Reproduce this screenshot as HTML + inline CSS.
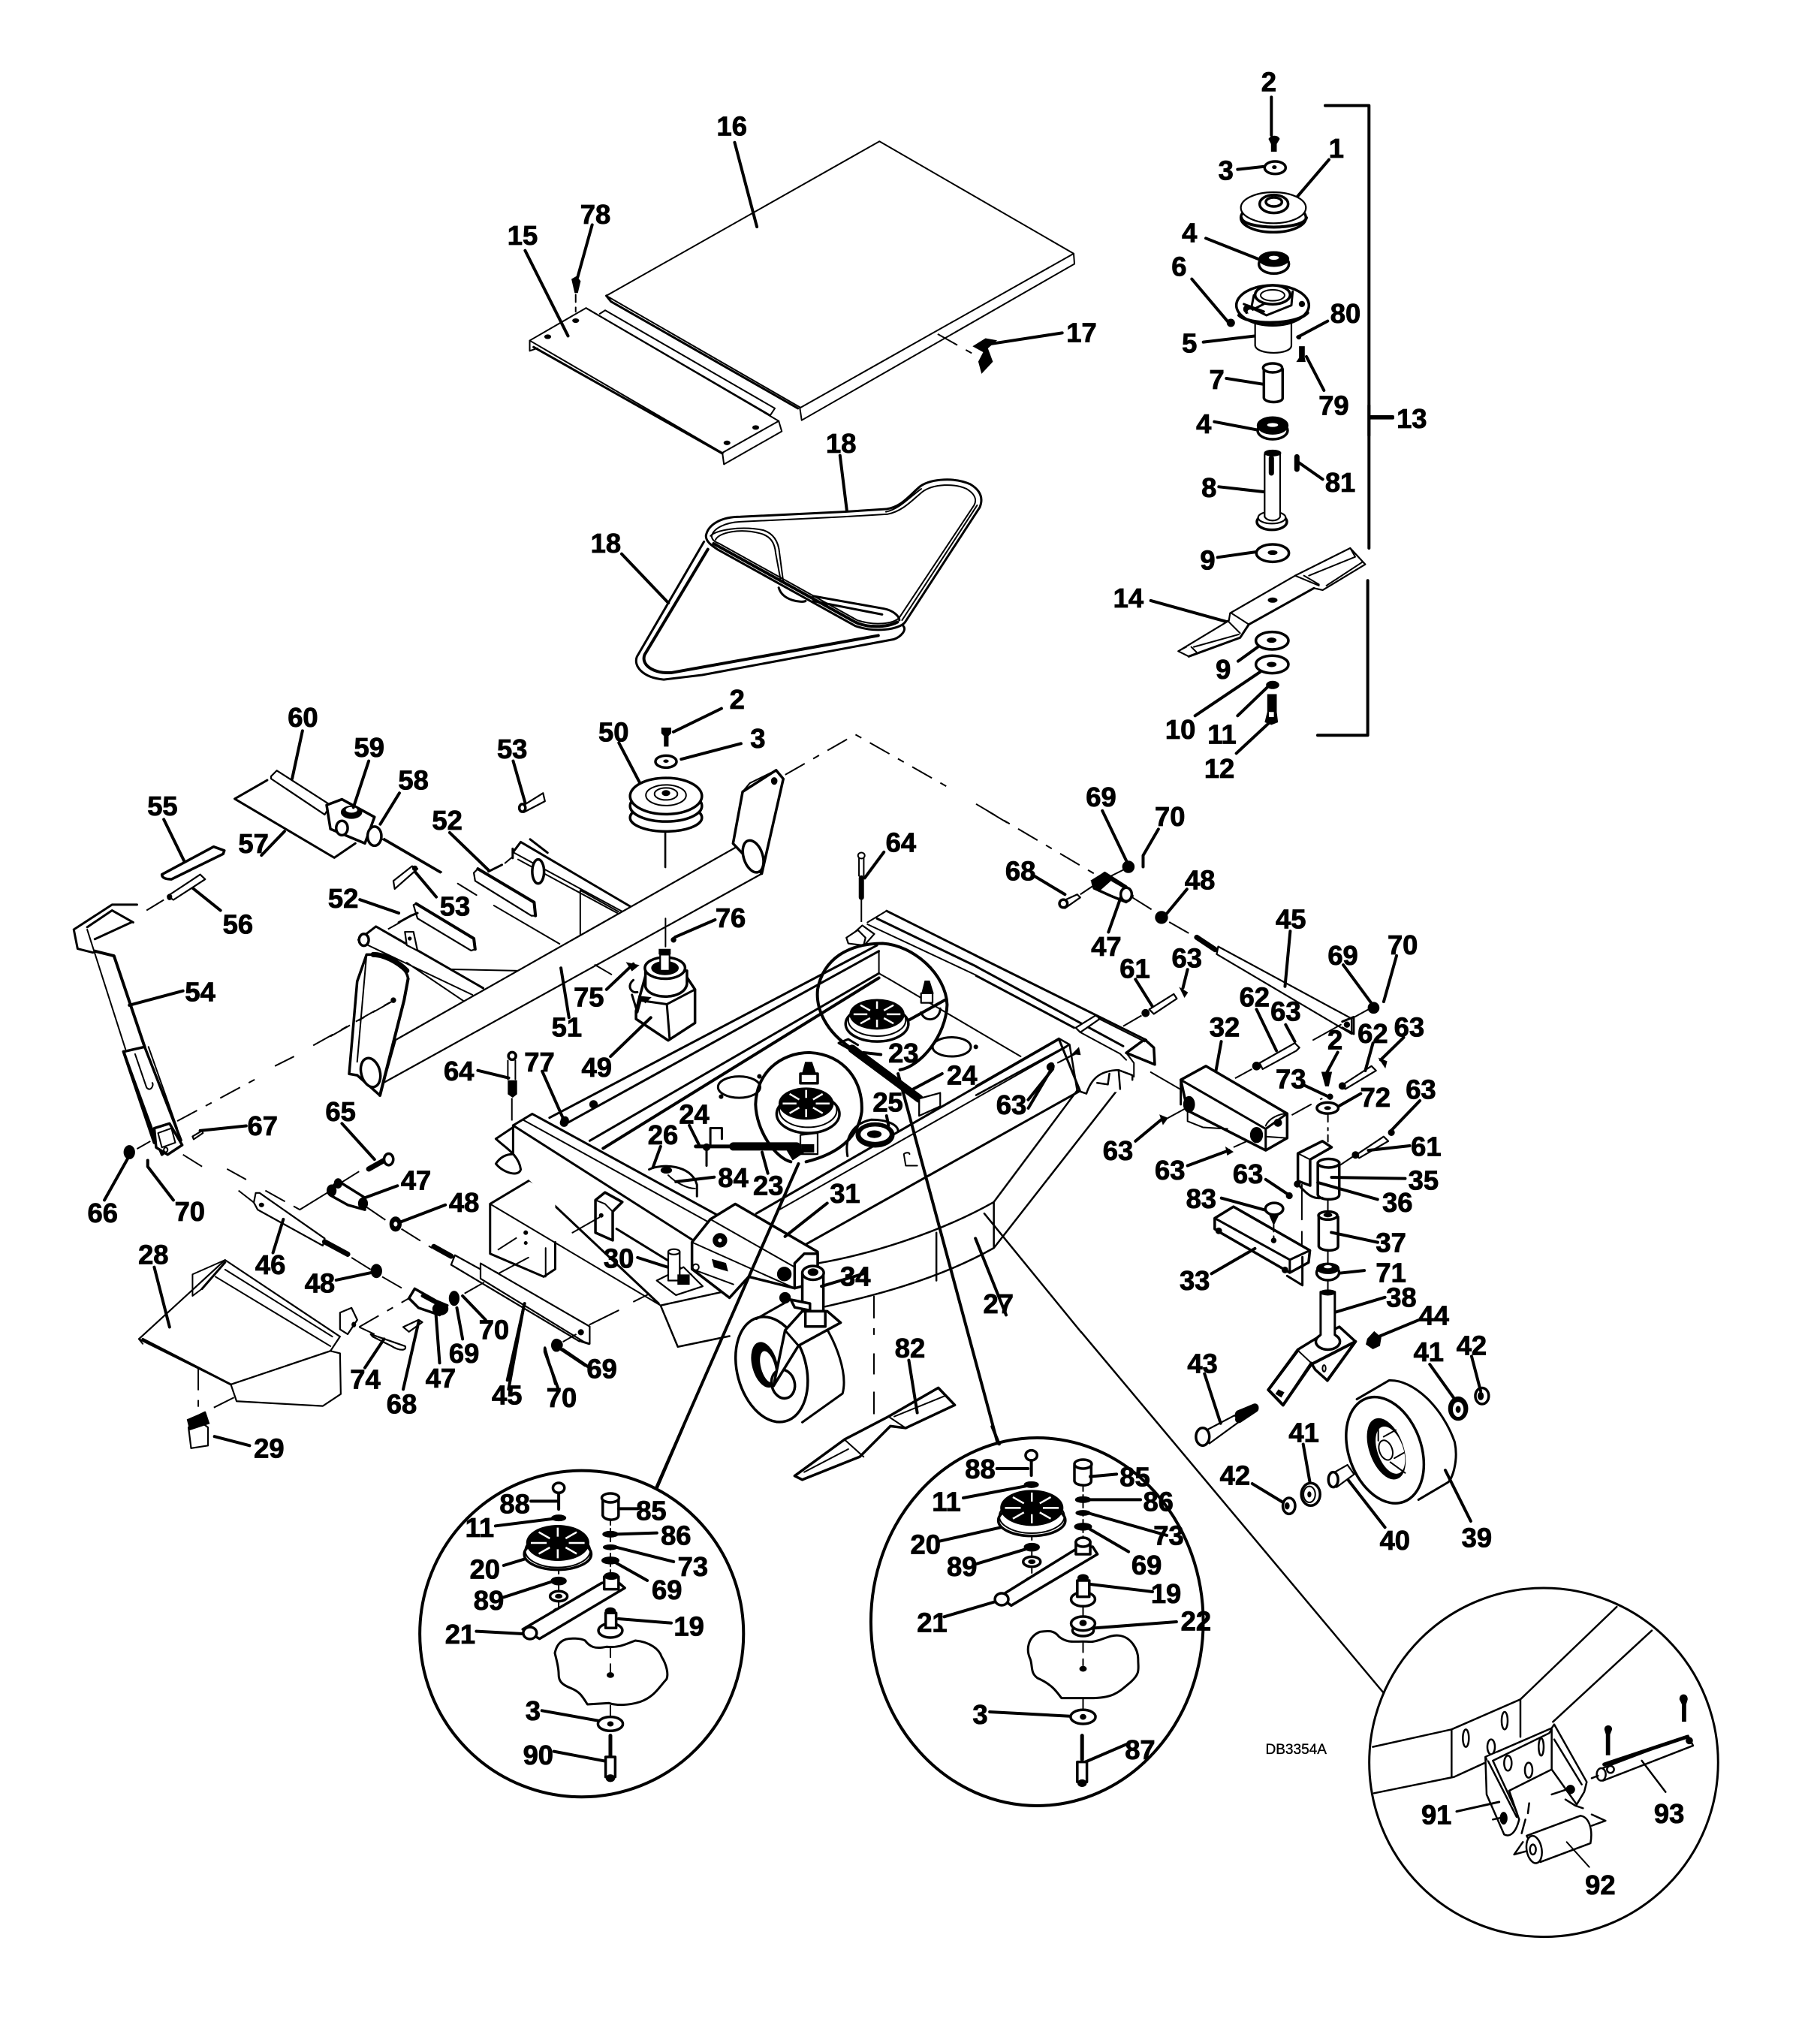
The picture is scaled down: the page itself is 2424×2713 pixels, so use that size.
<!DOCTYPE html>
<html><head><meta charset="utf-8"><style>
html,body{margin:0;padding:0;background:#fff}
svg{display:block}
path,ellipse,circle,rect{vector-effect:non-scaling-stroke}
text{font-family:"Liberation Sans",sans-serif;font-weight:bold;font-size:21px;fill:#000;stroke:#000;stroke-width:.5;text-anchor:middle;dominant-baseline:central}
.s{fill:none;stroke:#000;stroke-width:2;stroke-linejoin:round;stroke-linecap:round}
.m{fill:none;stroke:#000;stroke-width:3;stroke-linejoin:round;stroke-linecap:round}
.w{fill:#fff;stroke:#000;stroke-width:2.200;stroke-linejoin:round}
.W{fill:#fff;stroke:#000;stroke-width:3.500;stroke-linejoin:round}
.t{fill:none;stroke:#000;stroke-width:4;stroke-linecap:round;stroke-linejoin:round}
.h{fill:none;stroke:#000;stroke-width:7;stroke-linecap:round;stroke-linejoin:round}
.d{fill:none;stroke:#000;stroke-width:2;stroke-dasharray:30 13 9 13}
.f{fill:#000;stroke:#000;stroke-width:1}
</style></head><body>
<svg width="2424" height="2713" viewBox="0 0 2424 2713" xmlns="http://www.w3.org/2000/svg">
<defs>
<g id="sp">
<ellipse cx="0" cy="0" rx="1" ry="1" fill="#000"/>
<path stroke="#fff" stroke-width="2.500" fill="none" d="M0,-.35V-.85M0,.35V.85M-.35,0H-.85M.35,0H.85M-.25,-.25L-.6,-.6M.25,-.25L.6,-.6M-.25,.25L-.6,.6M.25,.25L.6,.6"/>
</g>
</defs>
<rect width="2424" height="2713" fill="#fff"/>

<!-- A: panels and belts -->
<g transform="translate(680,150) scale(.5102)">
<path class="s" d="M250,478L963,75L1470,368L757,770Z"/>
<path class="m" d="M262,493L750,772M250,478L262,493"/>
<path class="s" d="M1470,368L1472,395L760,803L755,770"/>
<path class="d" d="M1115,578L1225,640"/>
<path class="f" d="M1208,610L1240,590L1268,595L1245,615L1258,650L1230,680L1222,650L1235,625Z"/>
<path class="s" d="M50,595L197,510L700,805L553,888Z"/>
<path class="s" d="M197,510L678,790M233,525L247,516L690,772L678,790"/>
<path class="m" d="M60,612L553,890"/>
<path class="s" d="M553,888L557,918L708,832L700,805M50,595V622L70,615"/>
<ellipse class="f" cx="97" cy="585" rx="8" ry="5"/><ellipse class="f" cx="170" cy="543" rx="8" ry="5"/><ellipse class="f" cx="565" cy="862" rx="8" ry="5"/><ellipse class="f" cx="640" cy="822" rx="8" ry="5"/>
<path class="t" d="M38,360L150,583M213,293L175,430M585,78L643,298M1440,575L1245,605M860,895L878,1040M290,1152L412,1280"/>
<path class="f" d="M160,435L172,428L182,440L175,470H168Z"/>
<path class="s" stroke-dasharray="10 7" d="M170,475V520"/>
<!-- belts -->
<path class="m" d="M510,1105C515,1075 550,1055 600,1055L870,1042L980,1035C1020,1030 1040,1000 1070,975C1100,955 1160,952 1200,970C1225,985 1235,1005 1225,1030L1030,1330C1015,1350 950,1358 900,1340L540,1140C525,1130 510,1120 510,1105Z"/>
<path class="s" d="M525,1105C530,1085 560,1070 600,1068L870,1055L985,1048C1025,1040 1050,1010 1075,990C1105,968 1160,968 1190,982C1212,995 1218,1010 1210,1025L1015,1318C1000,1335 950,1340 905,1325L545,1125C530,1120 525,1112 525,1105Z"/>
<path class="s" d="M1218,1025L1022,1325M980,1042C1015,1035 1040,1005 1072,982"/>
<path class="s" d="M535,1115C545,1095 600,1085 650,1098C680,1105 690,1125 692,1150L705,1220M522,1105C535,1090 600,1078 660,1090C690,1100 700,1125 702,1150L712,1225"/>
<path class="m" d="M700,1240C710,1275 760,1280 770,1275M790,1262L975,1295C1000,1300 1015,1315 1015,1325M790,1275L970,1310"/>
<path class="t" d="M530,1125L900,1330C930,1345 980,1345 1010,1330"/>
<path class="m" d="M505,1120L330,1420C320,1445 345,1475 400,1480L500,1468L1000,1375C1020,1368 1035,1350 1025,1340"/>
<path class="t" d="M515,1140L350,1415C340,1440 370,1465 420,1462L960,1365"/>
</g>

<!-- R1: top of right column -->
<g transform="translate(1480,80) scale(.3333)">
<path class="t" d="M855,182H1030V1500M1030,1430H1125"/>
<path class="t" d="M640,148V300M505,437L615,425M870,398L740,550M378,712L600,800M322,875L470,1050M368,1127L612,1098M865,1043L745,1107M780,1185L850,1320M460,1272L637,1300"/>
<path class="f" d="M630,315C640,300 665,300 672,315L660,335V365H640V335Z"/>
<ellipse class="W" cx="655" cy="430" rx="42" ry="25"/><ellipse class="f" cx="652" cy="428" rx="8" ry="6"/>
<ellipse class="W" cx="648" cy="630" rx="130" ry="58"/>
<ellipse class="w" cx="648" cy="590" rx="130" ry="62"/>
<path class="t" d="M520,630C530,680 770,680 780,630"/>
<ellipse class="W" cx="650" cy="575" rx="57" ry="36"/><ellipse class="W" cx="650" cy="567" rx="32" ry="18"/>
<ellipse class="W" cx="650" cy="815" rx="60" ry="38"/>
<ellipse class="f" cx="650" cy="795" rx="60" ry="30"/><ellipse cx="650" cy="790" rx="20" ry="8" fill="#fff"/>
<circle class="f" cx="478" cy="1050" r="15"/>
<path class="w" d="M575,1040V1140C580,1180 720,1180 720,1140V1040Z"/>
<ellipse class="W" cx="645" cy="980" rx="145" ry="80"/>
<path class="t" d="M510,1020C550,1060 740,1060 785,1010"/>
<path class="m" d="M570,940L560,990L620,1020L720,980L725,925"/>
<ellipse class="W" cx="645" cy="938" rx="70" ry="38"/><ellipse class="s" cx="645" cy="940" rx="48" ry="22"/>
<path class="m" d="M530,975L610,1005M540,1010L610,975"/>
<circle class="f" cx="545" cy="995" r="16"/><ellipse cx="555" cy="1005" rx="10" ry="8" fill="#fff"/>
<circle class="f" cx="762" cy="975" r="11"/>
<path class="f" d="M752,1145H772V1190L775,1205H742L752,1190Z"/>
<circle class="f" cx="750" cy="1107" r="8"/>
<path class="W" d="M610,1235V1350C615,1372 685,1372 685,1350V1235Z"/>
<ellipse class="W" cx="645" cy="1230" rx="38" ry="18"/>
</g>

<!-- R2: lower right column -->
<g transform="translate(1480,540) scale(.3333)">
<path class="t" d="M1030,0V45H1125M1030,45V570M1025,700V1318H825"/>
<ellipse class="W" cx="645" cy="100" rx="60" ry="35"/>
<ellipse class="f" cx="645" cy="80" rx="62" ry="35"/><ellipse cx="645" cy="78" rx="22" ry="8" fill="#fff"/>
<path class="t" d="M412,65L585,98M430,325L635,348M745,225L845,295M425,607L580,585M158,780L475,868M507,1022L600,955M335,1240L595,1065M505,1240L625,1125M500,1390L640,1260"/>
<ellipse class="W" cx="642" cy="465" rx="60" ry="32"/>
<ellipse class="w" cx="642" cy="448" rx="55" ry="24"/>
<path class="w" d="M613,195V445C625,465 665,465 675,445V195Z"/>
<ellipse class="f" cx="645" cy="190" rx="33" ry="12"/>
<path class="h" d="M640,210V270"/>
<path class="h" d="M742,205V255"/>
<ellipse class="W" cx="645" cy="590" rx="65" ry="35"/><ellipse class="f" cx="645" cy="588" rx="18" ry="8"/>
<path class="w" d="M268,982L470,860L475,830L735,680L955,570L1015,635L845,738L810,730L550,875L515,928L310,1003Z"/>
<path class="m" d="M810,730L550,875L515,928L310,1003"/>
<path class="s" d="M735,680L830,720M770,680L830,715M480,830L550,875M465,860L515,910M790,680L975,605L955,570M860,720L1005,625M330,965L510,915M268,982L300,965M320,965L340,985"/>
<ellipse class="f" cx="645" cy="778" rx="18" ry="9"/>
<ellipse class="W" cx="643" cy="940" rx="65" ry="35"/><ellipse class="f" cx="641" cy="938" rx="18" ry="9"/>
<ellipse class="W" cx="643" cy="1035" rx="65" ry="35"/><ellipse class="f" cx="641" cy="1035" rx="18" ry="9"/>
<ellipse class="f" cx="645" cy="1117" rx="25" ry="15"/>
<path class="f" d="M625,1155H660V1225L665,1265L640,1275L615,1265L625,1225Z"/>
<rect x="630" y="1225" width="20" height="20" fill="#fff"/>
</g>

<!-- G: rear rails, slots (behind tube) -->
<g transform="translate(440,1100) scale(.3571)">
<path class="m" d="M710,60L1118,300M680,85V120M680,100L710,60"/>
<path class="s" d="M685,100L1090,320M700,125L1070,325M932,240V405M932,240L1075,320"/>
<path class="m" d="M745,50L810,100"/>
<ellipse class="W" cx="775" cy="170" rx="22" ry="45"/>
<path class="s" d="M610,297L855,440"/>
<path class="w" d="M535,175L550,160L760,285L765,335L750,335L540,205Z"/>
<path class="t" d="M550,160L760,285L765,335"/>
<path class="w" d="M310,295L320,290L535,420L540,460L525,465L325,345Z"/>
<path class="t" d="M320,290L535,420L540,460"/>
<path class="t" d="M110,275L255,325M445,25L590,165M395,265L315,170"/>
<path class="m" d="M590,170L640,145M255,360L300,335L325,325"/>
<path class="d" d="M650,140L680,115M215,385L260,360"/>
<path class="s" d="M475,215L545,258"/>
<path class="w" d="M235,205L305,150L325,160L240,235Z"/><circle class="f" cx="315" cy="158" r="9"/>
<path class="m" d="M105,425L170,375L570,605"/>
<path class="s" d="M130,440L530,630M285,510L500,655M450,535L700,540M450,535L570,605"/>
<path class="w" d="M278,395L310,395L325,465L285,445Z"/><circle class="f" cx="296" cy="420" r="6"/>
</g>

<!-- tube -->
<path class="w" d="M527,1385L995,1120L1014,1164L511,1442Z"/>

<!-- G: hanger and gearbox -->
<g transform="translate(440,1100) scale(.3571)">
<path class="W" d="M135,480L100,580L70,925L100,930L185,1005L275,650L290,570C285,530 230,490 175,480Z"/>
<path class="s" d="M135,480L100,880"/>
<path class="t" d="M290,570L275,650L185,1005"/>
<path class="h" d="M160,480C200,480 250,505 285,540"/>
<path class="s" d="M100,930L185,1005"/>
<ellipse class="W" cx="150" cy="920" rx="35" ry="55" transform="rotate(-15 150 920)"/>
<ellipse class="W" cx="125" cy="425" rx="18" ry="22"/>
<path class="d" d="M0,785L235,652"/><circle class="f" cx="235" cy="650" r="9"/>
<path class="s" d="M410,175L195,50"/>
<!-- gearbox -->
<path class="W" d="M1140,690V720L1260,800L1360,735V610L1320,550L1175,560L1150,650Z"/>
<path class="m" d="M1150,650L1255,665L1360,610M1255,665L1265,790"/>
<path class="W" d="M1175,540V600C1190,650 1320,650 1330,590V540Z"/>
<ellipse class="W" cx="1248" cy="530" rx="75" ry="40"/><ellipse class="f" cx="1248" cy="530" rx="50" ry="25"/>
<path class="w" d="M1230,480H1265V540H1230Z"/><rect class="f" x="1226" y="460" width="42" height="18"/>
<path class="m" d="M1130,575C1105,595 1120,625 1145,620M1125,630L1145,695L1160,640"/>
<path class="f" d="M1150,635L1195,640L1175,660Z"/>
<path class="s" d="M1250,25V155M1250,345V450"/>
<path class="t" d="M1435,350L1285,415M1030,610L1130,515M860,530L890,715M1045,860L1195,715M550,912L665,940M790,915L870,1095"/>
<circle class="f" cx="1280" cy="425" r="9"/>
<path class="d" d="M985,517L1050,555"/>
<path class="f" d="M1105,510L1150,520L1125,540Z"/>
<!-- 64 left -->
<circle class="W" cx="678" cy="858" r="14"/><path class="s" d="M662,875V945M690,875V945"/>
<path class="f" d="M663,950H695V1000L680,1012L663,1000Z"/>
<path class="d" d="M677,1015V1110"/>
</g>

<!-- P2: left area -->
<g transform="matrix(.5102,0,0,.6378,60,900)">
<path class="t" d="M1222,178L1255,270"/>
<path class="w" d="M1240,275L1300,245L1305,262L1250,285Z"/><ellipse class="W" cx="1246" cy="276" rx="8" ry="8"/>
<path class="s" d="M885,340L1035,410"/>
<!-- PTO -->
<path class="m" d="M580,218L495,257L755,380L810,350"/>
<path class="w" d="M590,210L605,198L745,270L730,290L590,215Z"/>
<path class="W" d="M735,270L775,258L860,295L835,350L745,320Z"/>
<ellipse class="f" cx="800" cy="285" rx="27" ry="13"/><ellipse cx="800" cy="280" rx="15" ry="6" fill="#fff"/>
<circle class="W" cx="775" cy="318" r="15"/>
<ellipse class="W" cx="860" cy="335" rx="18" ry="20"/>
<path class="t" d="M672,115L645,215M845,178L805,275M925,245L875,310M565,375L625,325M365,390L310,300M380,440L458,490M360,658L220,688"/>
<!-- 55 56 -->
<path class="W" d="M305,415L440,357L468,365L465,372L330,425C310,425 305,420 305,415Z"/>
<path class="w" d="M320,460L405,415L418,425L335,468Z"/><circle class="f" cx="325" cy="462" r="6"/>
<path class="d" d="M265,490L310,468"/>
<!-- 54 lever -->
<path class="m" d="M75,530L175,478H240M75,530L85,570L125,578M110,525L175,490L230,515M130,550L225,515"/>
<path class="s" d="M110,530L210,780"/><path class="t" d="M130,575L180,585L260,775"/>
<path class="W" d="M205,785L260,775L355,970L305,1000L285,960Z"/>
<path class="t" d="M205,785L285,975"/>
<path class="s" d="M235,790L265,860C275,870 285,855 280,850M270,775L345,945"/>
<path class="W" d="M285,945L325,935L358,980L320,1000L290,985Z"/>
<circle class="s" cx="315" cy="990" r="5"/><path class="s" d="M295,955L330,945L340,975L305,985Z"/>
<!-- 67 66 70 -->
<path class="t" d="M525,940L405,950M155,1095L218,1005M335,1095L268,1025V1012"/>
<path class="w" d="M385,962L410,950L412,955L388,968Z"/>
<circle class="f" cx="220" cy="995" r="14"/>
<path class="d" d="M345,930L555,840M600,815L650,795M700,772L905,680"/>
<path class="d" d="M275,972L240,988"/>
<path class="d" d="M360,1000L430,1035M475,1030L525,1052M505,1075L545,1100M575,1075L665,1115"/>
<path class="s" d="M665,1115L740,1078"/>
<!-- 46 -->
<path class="w" d="M550,1080L560,1080L730,1175L725,1190L555,1115L545,1100Z"/>
<ellipse class="f" cx="565" cy="1105" rx="6" ry="4"/>
<path class="h" d="M730,1182L790,1208"/>
<path class="t" d="M595,1205L622,1135M760,1262L860,1245M775,935L860,1010M920,1065L835,1090M1045,1105L930,1140"/>
<path class="d" d="M800,1215L850,1240M880,1255L945,1285M770,1060L840,1025M840,1110L895,1140M930,1155L1010,1195"/>
<circle class="f" cx="865" cy="1243" r="14"/>
<path class="h" d="M845,1030L885,1012"/><circle class="W" cx="897" cy="1010" r="12"/>
<path class="W" d="M740,1075L765,1055L835,1090L835,1115L790,1105L745,1085Z"/>
<circle class="f" cx="748" cy="1075" r="12"/><circle class="f" cx="765" cy="1060" r="10"/><circle class="f" cx="830" cy="1102" r="12"/>
<circle class="f" cx="915" cy="1145" r="15"/><circle cx="915" cy="1145" r="5" fill="#fff"/>
<!-- 45 lower rod -->
<path class="h" d="M1015,1192L1060,1212"/>
<path class="w" d="M1070,1210L1410,1360L1395,1390L1060,1230Z"/>
<path class="m" d="M1395,1365L1420,1360V1395L1400,1390"/><circle class="f" cx="1405" cy="1377" r="6"/>
<path class="t" d="M1250,1315L1210,1490M1335,1400L1410,1440M1340,1490L1305,1412V1405"/>
<circle class="f" cx="1335" cy="1398" r="13"/>
<!-- lower 47, 68, 69, 70 -->
<path class="W" d="M950,1300L965,1280L1020,1305L1050,1315L1030,1335L975,1320Z"/>
<path class="t" d="M985,1295L1020,1310"/><ellipse class="f" cx="1032" cy="1322" rx="20" ry="13"/>
<ellipse class="f" cx="1068" cy="1300" rx="13" ry="15"/>
<path class="w" d="M935,1360L975,1345L985,1350L950,1370Z"/>
<path class="t" d="M975,1350L935,1490M1020,1330L1030,1435M1075,1320L1090,1385M1090,1295L1150,1345"/>
<path class="d" d="M820,1360L950,1300M1095,1290L1150,1265M1170,1195L1260,1165"/>
<!-- 28 guard -->
<path class="w" d="M245,1385L470,1220L770,1380L745,1410L485,1480Z"/>
<path class="s" d="M385,1250L470,1220M385,1250V1295L410,1280M445,1255L745,1400M470,1240L750,1380M245,1385L255,1395"/>
<path class="m" d="M410,1280L470,1225M255,1385L485,1480"/>
<path class="w" d="M485,1480L745,1410L770,1415L772,1500L725,1525L500,1515Z"/>
<path class="t" d="M285,1235L325,1360"/>
<path class="w" d="M770,1330L800,1320L815,1345L790,1375L770,1365Z"/><circle class="f" cx="806" cy="1355" r="5"/>
<path class="w" d="M850,1375L940,1400C945,1410 925,1410 905,1400L855,1380Z"/>
<path class="t" d="M835,1445L885,1385"/>
<path class="d" d="M820,1360L860,1375M400,1445V1530"/>
<path class="t" d="M1498,140L1560,235"/>
</g>

<!-- P1: tube end, pulley 50, upper bolt -->
<g transform="matrix(.6378,0,0,.574,600,1000)">
<path class="W" d="M590,215L610,95L680,45L695,65L650,285Z"/>
<path class="s" d="M610,95L625,75L680,45"/>
<ellipse class="f" cx="676" cy="70" rx="6" ry="8"/>
<ellipse class="W" cx="632" cy="245" rx="20" ry="38" transform="rotate(-15 632 245)"/>
<ellipse class="W" cx="450" cy="155" rx="75" ry="32"/>
<ellipse class="W" cx="450" cy="128" rx="75" ry="36"/>
<ellipse class="W" cx="450" cy="105" rx="75" ry="42"/>
<ellipse class="s" cx="450" cy="103" rx="42" ry="24"/><ellipse class="s" cx="450" cy="100" rx="24" ry="14"/><ellipse class="f" cx="450" cy="98" rx="8" ry="6"/>
<ellipse class="W" cx="450" cy="25" rx="22" ry="14"/><ellipse class="f" cx="450" cy="24" rx="5" ry="3"/>
<path class="s" d="M448,190V270"/>
<!-- 64 upper -->
<circle class="s" cx="858" cy="243" r="7"/>
<path class="s" d="M853,250V290M863,250V290"/><path class="h" d="M858,295V340"/>
<path class="t" d="M905,235L865,295"/>
<path class="d" d="M858,345V420"/>
<path class="w" d="M830,435L860,405L885,425L865,450Z"/>
</g>

<!-- D: deck -->
<g transform="translate(640,1180) scale(.5102)">
<!-- skirt -->
<path fill="#fff" d="M880,985C1000,965 1190,910 1340,825L1558,533L1662,533C1600,650 1460,820 1340,945C1180,1035 1000,1075 900,1098L880,1100Z"/>
<path class="s" style="stroke-width:2.500" d="M880,985C1000,965 1190,910 1340,825M900,1098C1000,1075 1180,1035 1340,945M1190,905V1030M1340,825V945M1340,825L1558,533M1340,945L1662,533"/>
<!-- lower left plate skirt -->
<path class="s" style="stroke-width:2.500" d="M470,1095L515,1203L650,1175M470,1095L630,1060"/>
<!-- rear beam -->
<path class="m" d="M1060,65L1294,182M1035,85L1294,210"/>
<path class="s" d="M1010,95L1060,65M1010,100L1294,233"/>
<path class="w" d="M955,135L985,115L1005,135L1000,155L960,150Z"/>
<!-- left rails -->
<path class="m" d="M180,605L1035,155M215,625L1040,170M285,665L1040,228"/>
<path class="t" d="M320,685L1040,240"/>
<path class="s" d="M1040,170V228M1040,228L1070,245L1410,445"/>
<circle class="f" cx="295" cy="570" r="10"/><circle class="f" cx="220" cy="612" r="10"/>
<!-- right rail -->
<path class="m" d="M720,855L1510,400L1565,535"/>
<path class="s" d="M780,845L1530,420"/>
<path class="m" d="M850,935L1565,535"/>
<path class="s" d="M1105,700L1110,730L1140,730M1105,700C1110,695 1120,695 1120,700"/>
<path class="t" d="M1430,580L1495,470"/><path class="d" d="M1510,460L1555,435"/>
<circle class="f" cx="1490" cy="468" r="7"/>
<!-- ovals -->
<ellipse class="m" cx="675" cy="525" rx="55" ry="28"/>
<circle class="f" cx="628" cy="550" r="5"/><circle class="f" cx="728" cy="497" r="5"/>
<ellipse class="m" cx="1230" cy="420" rx="50" ry="25"/><circle class="f" cx="1293" cy="420" r="5"/>
<!-- pulley 25 -->
<path class="m" d="M958,705C950,660 970,620 1020,610C1065,610 1090,625 1090,640"/>
<ellipse class="f" cx="1030" cy="650" rx="50" ry="32"/><ellipse cx="1030" cy="648" rx="38" ry="20" fill="#fff"/><ellipse class="f" cx="1028" cy="648" rx="18" ry="9"/>
<path class="t" d="M1060,600L1065,625"/>
<!-- 26 / 84 -->
<path class="m" d="M440,740C470,725 550,725 565,780L565,810"/>
<path class="t" d="M470,680L450,735M610,760L510,772"/>
<ellipse class="f" cx="485" cy="742" rx="14" ry="8"/>
<path class="s" d="M490,755C510,775 540,790 560,790"/>
<!-- mini circle 1 -->
<path class="t" d="M810,720C770,710 720,640 718,570C720,490 780,435 860,435C950,440 1000,510 995,590C985,660 930,700 850,720"/>
<path class="W" d="M835,490V515H880V490Z"/><path class="f" d="M840,490L848,460H865L875,490Z"/>
<ellipse class="W" cx="855" cy="595" rx="82" ry="50"/><ellipse class="s" cx="855" cy="585" rx="75" ry="45"/>
<g transform="translate(850,568) scale(72,42)"><use href="#sp"/></g>
<path class="w" d="M835,650V700H880V645Z"/><path class="f" d="M838,675H870V695H838Z"/>
<path class="t" d="M545,625L570,675M735,695L750,750"/>
<path class="h" style="stroke-width:11" d="M660,680L825,680"/>
<path class="h" style="stroke-width:5" d="M562,680H660"/>
<path class="m" d="M600,680V632H630V660M590,680V730"/>
<circle class="f" cx="590" cy="682" r="9"/>
<path class="f" d="M800,690L830,680L845,695L815,715Z"/>
<!-- mini circle 2 -->
<path class="t" d="M970,425C900,380 875,320 880,270C895,190 960,150 1050,150C1130,155 1215,230 1218,310C1215,390 1150,470 1095,480"/>
<ellipse class="W" cx="1035" cy="360" rx="82" ry="46"/><ellipse class="s" cx="1035" cy="350" rx="75" ry="42"/>
<g transform="translate(1035,335) scale(72,40)"><use href="#sp"/></g>
<path class="t" d="M1118,350L1212,298"/>
<path class="w" d="M1150,280V305H1180V280Z"/><path class="f" d="M1152,280L1160,248H1172L1182,280Z"/>
<path class="m" d="M1150,330C1160,360 1200,350 1200,320"/>
<path class="m" d="M935,410L960,400L985,415M935,410L970,430"/>
<path class="h" style="stroke-width:11" d="M970,425L1145,555"/>
<path class="w" d="M1145,555L1200,540V575L1145,600Z"/>
<path class="s" d="M1145,555V600"/>
<path class="t" d="M1205,490L1130,530M1045,440L1000,435"/>
<!-- front beam -->
<path fill="#fff" d="M85,625L135,595L620,860L555,925L85,700Z"/>
<path class="m" d="M135,595L620,860M85,625L135,595M85,625L555,925M85,625V700"/>
<path class="s" d="M110,610L600,880"/>
<path class="m" d="M125,770L465,1090M355,895L550,1015"/>
<path class="m" d="M40,660L85,630M40,660C60,680 100,700 105,740C100,760 60,750 40,725C50,710 65,700 85,700"/>
<circle class="f" cx="218" cy="618" r="10"/>
<!-- hook on beam -->
<path class="W" d="M300,820L325,800L370,825L345,850V925L300,905Z"/><path class="s" d="M345,850L325,830L300,820"/>
<circle class="f" cx="315" cy="860" r="5"/>
<path class="s" d="M240,905L310,865"/>
<path class="s" d="M400,1085L440,1065"/>
<!-- lower left block -->
<path fill="#fff" d="M25,830L125,770L195,810V1000L165,1020L25,960Z"/>
<path class="m" d="M25,830V960L165,1020L195,1000V930M25,830L125,770"/>
<path class="s" d="M25,830L470,1095M170,945V1020M50,1010L125,970M0,990L45,1010"/>
<path class="d" d="M45,950L115,905"/><circle class="f" cx="118" cy="905" r="5"/><circle class="f" cx="118" cy="932" r="4"/>
<!-- 45 rod -->
<path class="w" d="M0,985L285,1150L285,1195L270,1190L0,1025Z"/>
<circle class="f" cx="262" cy="1165" r="7"/>
<path class="t" d="M115,1090L70,1290M215,1210L285,1258"/>
<path class="s" d="M285,1145L360,1108"/>
<circle class="f" cx="200" cy="1198" r="14"/>
<path class="m" d="M168,1205L195,1300"/>
<path class="d" d="M215,1190L250,1170"/>
<!-- wheel -->
<ellipse class="W" cx="760" cy="1262" rx="90" ry="140" transform="rotate(-15 760 1262)"/>
<path class="m" d="M840,1400L945,1325C960,1270 925,1190 900,1150M720,1130L800,1085"/>
<ellipse class="f" cx="742" cy="1250" rx="32" ry="60" transform="rotate(-15 742 1250)"/><ellipse cx="750" cy="1255" rx="18" ry="42" fill="#fff" transform="rotate(-15 750 1255)"/>
<ellipse class="W" cx="790" cy="1300" rx="30" ry="38" transform="rotate(-15 790 1300)"/>
<path class="W" d="M765,1305L795,1160L840,1110L905,1110L940,1140L830,1200Z"/>
<path class="m" d="M795,1160L830,1200L940,1140"/>
<!-- mount 31 -->
<path class="W" d="M552,930L600,870L665,830L880,955L880,990L820,1050L700,1020L650,1075L552,1000Z"/>
<path class="s" d="M600,870L820,995M552,930L820,1050M552,1000L660,1040M552,930V1000"/>
<circle class="f" cx="625" cy="925" r="18"/><circle cx="625" cy="925" r="5" fill="#fff"/>
<circle class="f" cx="793" cy="1013" r="18"/>
<path class="f" d="M605,975L640,985L645,1005L610,995Z"/>
<circle class="s" cx="562" cy="995" r="8"/>
<path class="t" d="M905,828L795,915"/>
<!-- 30 pin -->
<path class="w" d="M460,1030L530,995L580,1045L510,1068Z"/>
<path class="w" d="M490,955V1030H520V955Z"/><ellipse class="w" cx="505" cy="955" rx="15" ry="7"/>
<path class="f" d="M515,1015H545V1040H515Z"/>
<path class="t" d="M410,970L488,995"/>
<!-- 34 bracket -->
<path class="W" d="M820,1050V985L845,960H880V1000L860,1040Z"/>
<path class="W" d="M840,1010V1110H895V1010Z"/>
<ellipse class="W" cx="868" cy="1010" rx="28" ry="18"/><ellipse class="f" cx="868" cy="1008" rx="13" ry="9"/>
<path class="W" d="M810,1080L860,1090V1108L820,1100Z"/>
<circle class="f" cx="795" cy="1075" r="14"/>
<path class="W" d="M848,1110V1150H900V1110Z"/>
<path class="t" d="M1000,1012L890,1045"/>
<path class="d" d="M1027,1070V1175M1027,1220V1275M1027,1320V1425"/><circle class="f" cx="1027" cy="1430" r="5"/>
<!-- 82 blade -->
<path class="W" d="M820,1540L950,1445L1065,1385L1195,1310L1238,1355L1110,1415L1070,1410L990,1490L840,1550Z"/>
<path class="s" d="M950,1445L1000,1490M1065,1385L1110,1415M1080,1385L1215,1330M845,1530L960,1470"/>
<path class="t" d="M1118,1238L1140,1375M1292,920L1372,1120"/>
<!-- long thick connectors -->
<path class="t" d="M830,725L460,1568M1090,490L1350,1455"/>
<path class="s" style="stroke-width:2.500" d="M1315,855L1568,1165"/>
</g>
<path class="s" style="stroke-width:2.500" d="M1440,1774L1843,2255"/>

<!-- C: right assembly -->
<g transform="translate(1300,1030) scale(.4082)">
<path class="d" d="M0,100L390,330"/>
<path class="m" d="M0,595L555,870M0,630L480,890M0,660L320,830"/>
<path class="w" d="M325,830L390,790L405,800L340,845Z"/>
<path class="W" d="M490,912L550,868L580,895L583,950Z"/>
<path class="s" d="M340,845L470,915M490,912L515,945V990M400,800L550,875M470,915L490,935"/>
<path fill="#fff" d="M330,1035L360,1045C375,1000 400,970 465,968L470,1030L460,1040L330,1035"/>
<path class="s" style="stroke-width:2.500" d="M270,865L305,885L330,1035M305,885L0,1050M0,1020L270,865M330,1035L360,1045C375,1000 400,970 465,968L510,985V1000M465,968L470,1030M395,1010L430,1015L435,980"/>
<path class="t" d="M170,1065L250,965M520,1200L610,1125M690,1280L825,1230M945,1325L1020,1375"/>
<circle class="f" cx="243" cy="958" r="12"/><path class="f" d="M315,915L335,895L340,918Z"/>
<path class="d" d="M265,945L325,915M625,1125L680,1095M840,1220L895,1195"/>
<path class="f" d="M600,1115L625,1125L610,1145Z"/><path class="f" d="M815,1220L838,1235L820,1245Z"/><circle class="f" cx="1022" cy="1378" r="10"/>
<!-- 47 -->
<path class="W" d="M380,355L420,325L490,370L510,400L490,420L440,400L385,375Z"/>
<path class="f" d="M375,350L420,322L445,345L400,385Z"/>
<path class="m" d="M445,350L480,370"/><ellipse class="W" cx="490" cy="395" rx="18" ry="22"/>
<path class="w" d="M275,420L330,395L340,405L290,440Z"/><circle class="W" cx="285" cy="425" r="13"/>
<path class="t" d="M190,335L290,395M412,122L495,295M595,182L545,268V305M688,378L620,460M472,405L432,518"/>
<circle class="f" cx="497" cy="305" r="19"/>
<circle class="f" cx="605" cy="470" r="20"/>
<path class="d" d="M510,405L590,455M630,485L700,525M340,395L385,365M440,335L480,315"/>
<!-- 45 upper -->
<path class="h" d="M720,535L780,575"/>
<path class="w" d="M790,565L1225,800V850L785,590Z"/>
<path class="m" d="M1195,810L1232,795V850L1195,830"/><circle class="f" cx="1210" cy="820" r="9"/>
<path class="t" d="M1025,515L1008,695M1198,625L1290,750M1372,595L1330,745"/>
<circle class="f" cx="1297" cy="765" r="18"/>
<path class="d" d="M1235,795L1280,770"/>
<!-- 61 -->
<path class="w" d="M565,770L645,720L655,735L580,785Z"/><circle class="f" cx="553" cy="782" r="12"/>
<path class="t" d="M520,672L575,760M690,640L675,700"/>
<path class="f" d="M665,700L690,715L680,730Z"/>
<path class="d" d="M480,825L540,790"/>
<path class="s" d="M570,975L665,1030"/>
<!-- 62 pin -->
<path class="w" d="M925,945L1040,880L1055,895L1045,905L935,965Z"/><circle class="f" cx="915" cy="955" r="13"/>
<path class="t" d="M915,770L980,905M1010,820L1040,875M800,875L780,985"/>
<path class="d" d="M845,995L900,965"/>
<!-- 32 block -->
<path class="W" d="M668,1000L750,955L1015,1110V1190L945,1230L690,1100Z"/>
<path class="m" d="M668,1000L945,1160V1230M945,1160L1015,1110M668,1000V1080"/>
<path class="s" d="M690,1100V1135L740,1155L820,1160M945,1185L1015,1190M945,1150C955,1125 990,1110 1015,1110"/>
<ellipse class="f" cx="695" cy="1080" rx="18" ry="26"/>
<ellipse class="f" cx="915" cy="1180" rx="20" ry="25"/>
<circle class="f" cx="985" cy="1140" r="12"/>
<path class="s" d="M1100,870L1190,820"/>
<!-- 2, 73, 72 -->
<path class="t" d="M1180,910L1145,975M1065,1015L1150,1055M1255,1045L1185,1085"/>
<path class="f" d="M1128,975H1160L1150,1020H1140Z"/>
<circle class="f" cx="1155" cy="1055" r="9"/>
<ellipse class="W" cx="1147" cy="1092" rx="35" ry="18"/><ellipse class="f" cx="1147" cy="1092" rx="10" ry="5"/>
<path class="d" d="M1030,1115L1130,1060"/>
<path class="s" stroke-dasharray="9 8" d="M1148,1115V1165M1148,1180V1230"/>
<!-- 62 right -->
<path class="w" d="M1190,1020L1290,955L1305,970L1205,1030Z"/><circle class="f" cx="1195" cy="1020" r="11"/>
<path class="t" d="M1295,880L1270,970M1395,862L1320,935"/>
<path class="f" d="M1315,930L1340,940L1335,960Z"/>
<!-- 61 lower -->
<path class="w" d="M1240,1245L1330,1185L1345,1200L1250,1255Z"/><circle class="f" cx="1238" cy="1245" r="11"/>
<path class="t" d="M1448,1068L1350,1170M1415,1215L1280,1230"/>
<circle class="f" cx="1355" cy="1172" r="10"/>
<path class="d" d="M1170,1290L1230,1250"/>
<!-- 35/36 -->
<path class="W" d="M1050,1240L1130,1200L1160,1220L1090,1260V1345L1050,1330Z"/>
<path class="s" d="M1090,1260L1050,1240"/>
<path class="W" d="M1115,1270V1375C1120,1395 1185,1395 1185,1375V1270Z"/>
<ellipse class="W" cx="1150" cy="1272" rx="35" ry="14"/>
<path class="m" d="M1050,1340C1080,1375 1100,1390 1130,1385"/>
<circle class="f" cx="1048" cy="1340" r="10"/>
<path class="t" d="M1400,1322L1160,1318M1310,1390L1115,1335"/>
</g>

<!-- W: lower right -->
<g transform="translate(1500,1560) scale(.3571)">
<path class="s" d="M655,50V180M655,225V285"/>
<path class="W" d="M330,175L400,132L685,295L680,340L610,378L345,225L330,215Z"/>
<path class="m" d="M330,175L610,330V378M610,330L685,295"/>
<circle class="f" cx="345" cy="222" r="11"/><circle class="f" cx="592" cy="368" r="11"/>
<path class="m" d="M600,390L657,425V320"/>
<path class="t" d="M318,382L480,288M355,100L520,145"/>
<ellipse class="W" cx="552" cy="140" rx="33" ry="22"/><path class="f" d="M535,165H567L550,200Z"/>
<path class="s" stroke-dasharray="9 6" d="M550,200V250"/><circle class="f" cx="550" cy="258" r="9"/>
<path class="s" d="M752,105V150"/>
<path class="W" d="M718,170V280C725,300 790,300 790,280V170Z"/>
<ellipse class="W" cx="752" cy="165" rx="35" ry="15"/><ellipse class="f" cx="752" cy="163" rx="15" ry="7"/>
<path class="t" d="M765,228L938,265M795,380L888,370M965,470L765,530M1090,555L945,615"/>
<path class="s" d="M752,300V340"/>
<ellipse class="W" cx="752" cy="378" rx="42" ry="28"/><ellipse class="f" cx="752" cy="362" rx="42" ry="20"/><ellipse cx="752" cy="356" rx="15" ry="6" fill="#fff"/>
<path class="s" d="M752,410V440"/>
<!-- 38 fork -->
<path class="W" d="M640,665L705,625L795,580L855,635L750,780L705,740L690,715L585,872L530,815Z"/>
<path class="t" d="M690,720L855,635M690,720L585,872L530,815L640,668M855,635L750,780"/>
<path class="s" d="M640,668L690,715M705,740L690,715"/>
<path class="f" d="M568,815L588,825L578,842L558,830Z"/>
<ellipse class="s" cx="738" cy="735" rx="6" ry="12"/>
<ellipse class="W" cx="752" cy="635" rx="45" ry="30"/>
<path fill="#fff" d="M725,450V615C730,640 775,640 778,615V450Z"/>
<ellipse class="f" cx="752" cy="452" rx="28" ry="10"/>
<path class="m" d="M725,450V610M778,450V610"/>
<path class="f" d="M900,625L925,598L950,620L945,650L920,662L895,645Z"/>
<!-- 43 bolt -->
<path class="w" d="M300,965L405,910L420,935L310,1015Z"/>
<path class="h" style="stroke-width:10" d="M420,905L480,880"/><path class="h" style="stroke-width:10" d="M420,925L480,885"/>
<ellipse class="W" cx="285" cy="990" rx="25" ry="33"/>
<path class="t" d="M292,755L352,940"/>
<!-- wheel 39 -->
<path class="m" d="M860,850L980,780C1070,775 1180,880 1225,1010C1240,1080 1215,1150 1200,1160L1090,1225"/>
<ellipse class="W" cx="965" cy="1040" rx="135" ry="205" transform="rotate(-20 965 1040)"/>
<ellipse class="f" cx="970" cy="1035" rx="62" ry="118" transform="rotate(-20 970 1035)"/>
<ellipse cx="985" cy="1040" rx="48" ry="92" transform="rotate(-20 985 1040)" fill="#fff"/>
<ellipse class="s" cx="968" cy="1040" rx="24" ry="38" transform="rotate(-20 968 1040)"/>
<path class="s" d="M960,990L1005,965M1000,1070L1035,1050M940,950V1005M985,1085L1040,1125"/>
<path class="t" d="M1190,1115L1285,1305"/>
<ellipse class="f" cx="1238" cy="885" rx="36" ry="44"/><ellipse cx="1238" cy="888" rx="20" ry="28" fill="#fff"/><ellipse class="f" cx="1238" cy="888" rx="8" ry="12"/>
<ellipse class="W" cx="1327" cy="838" rx="25" ry="30"/><ellipse class="f" cx="1322" cy="838" rx="10" ry="14"/>
<path class="t" d="M1132,720L1225,850M1288,690L1322,820M660,1018L685,1160M470,1165L585,1235M815,1135L965,1328"/>
<ellipse class="W" cx="688" cy="1205" rx="35" ry="42"/><ellipse class="s" cx="683" cy="1205" rx="22" ry="30"/><ellipse class="f" cx="683" cy="1205" rx="6" ry="10"/>
<ellipse class="W" cx="607" cy="1248" rx="23" ry="30"/><ellipse class="f" cx="600" cy="1248" rx="8" ry="12"/>
<path class="w" d="M755,1135L825,1095L850,1130L785,1178Z"/><ellipse class="W" cx="772" cy="1150" rx="18" ry="28"/>
</g>

<!-- P3: detail circles -->
<g transform="matrix(.6378,0,0,.3333,540,1900)">
<path class="t" d="M580,0L525,245M1225,0L1240,70"/>
<ellipse class="t" cx="368" cy="828" rx="338" ry="652"/>
<ellipse class="t" cx="1319" cy="780" rx="347" ry="735"/>
<!-- left detail -->
<ellipse class="W" cx="320" cy="245" rx="12" ry="20"/><path class="t" d="M320,265V330M262,298H318"/>
<ellipse class="f" cx="320" cy="365" rx="15" ry="12"/>
<path class="t" d="M188,397L310,368M205,555L265,520M205,682L305,620M148,818L245,828"/>
<ellipse class="W" cx="318" cy="510" rx="70" ry="62"/><ellipse class="s" cx="318" cy="495" rx="68" ry="68"/>
<g transform="translate(318,465) scale(66,72)"><use href="#sp"/></g>
<path class="s" stroke-dasharray="6 5" d="M320,570V800M428,375V640"/>
<ellipse class="f" cx="320" cy="617" rx="16" ry="16"/><ellipse class="W" cx="320" cy="678" rx="18" ry="20"/><ellipse class="f" cx="320" cy="678" rx="7" ry="8"/><ellipse class="f" cx="320" cy="745" rx="14" ry="20"/>
<path class="W" d="M245,810L410,625L440,615L458,645L280,848Z"/>
<ellipse class="W" cx="260" cy="825" rx="14" ry="24"/>
<path class="W" d="M415,600V650H445V600Z"/><ellipse class="f" cx="430" cy="597" rx="15" ry="14"/>
<path class="W" d="M412,295V355C415,378 445,378 445,355V290Z"/><ellipse class="W" cx="428" cy="285" rx="18" ry="18"/>
<path class="t" d="M445,328H485M440,430L525,425M440,482L560,540M440,545L505,615M445,768L555,785M285,1135L410,1178M310,1298L420,1338"/>
<ellipse class="f" cx="428" cy="430" rx="16" ry="12"/><ellipse class="f" cx="428" cy="482" rx="15" ry="10"/><ellipse class="f" cx="428" cy="535" rx="18" ry="14"/>
<ellipse class="f" cx="428" cy="738" rx="11" ry="14"/>
<ellipse class="W" cx="428" cy="815" rx="25" ry="28"/>
<path class="W" d="M418,745V805H440V745Z"/>
<path class="m" d="M335,850C345,845 365,845 375,855C385,880 395,890 420,880C445,885 460,870 480,855C510,860 530,890 535,920C545,950 550,990 545,1010C530,1040 520,1080 490,1100C465,1115 440,1115 425,1105L380,1110C370,1080 365,1060 345,1045C325,1030 320,1015 320,990C320,960 315,930 312,905C315,880 320,860 335,850Z"/>
<path class="s" stroke-dasharray="14 9" d="M428,880V980M428,1115V1160"/><ellipse class="f" cx="428" cy="993" rx="7" ry="10"/>
<ellipse class="W" cx="428" cy="1188" rx="26" ry="28"/><ellipse class="f" cx="428" cy="1188" rx="6" ry="9"/>
<path class="h" style="stroke-width:5" d="M428,1235V1320"/>
<path class="W" d="M418,1320V1400H438V1320Z"/><ellipse class="f" cx="428" cy="1405" rx="9" ry="14"/>
<!-- right detail -->
<ellipse class="W" cx="1307" cy="115" rx="12" ry="20"/><path class="t" d="M1307,135V195M1235,168H1300"/>
<ellipse class="f" cx="1307" cy="232" rx="15" ry="12"/>
<path class="t" d="M1165,285L1295,238M1115,458L1250,400M1190,550L1295,490M1125,760L1240,695"/>
<ellipse class="W" cx="1308" cy="375" rx="70" ry="62"/><ellipse class="s" cx="1308" cy="358" rx="68" ry="68"/>
<g transform="translate(1308,325) scale(66,72)"><use href="#sp"/></g>
<path class="s" stroke-dasharray="6 5" d="M1308,435V660M1415,240V470"/>
<ellipse class="f" cx="1308" cy="482" rx="16" ry="16"/><ellipse class="W" cx="1308" cy="540" rx="18" ry="20"/><ellipse class="f" cx="1308" cy="540" rx="7" ry="8"/><ellipse class="f" cx="1308" cy="620" rx="14" ry="20"/>
<path class="W" d="M1240,680L1400,490L1435,480L1445,510L1265,715Z"/>
<ellipse class="W" cx="1245" cy="690" rx="14" ry="24"/>
<path class="W" d="M1400,460V510H1430V460Z"/><ellipse class="W" cx="1415" cy="462" rx="15" ry="18"/>
<path class="W" d="M1397,155V218C1400,240 1432,240 1432,218V150Z"/><ellipse class="W" cx="1415" cy="150" rx="18" ry="18"/>
<path class="t" d="M1430,200L1485,190M1425,292H1535M1425,345L1590,435M1425,405L1510,500M1430,630L1560,660M1440,805L1610,780M1220,1140L1395,1158M1505,1270L1420,1340"/>
<ellipse class="f" cx="1415" cy="292" rx="16" ry="12"/><ellipse class="f" cx="1415" cy="345" rx="15" ry="10"/><ellipse class="f" cx="1415" cy="400" rx="18" ry="14"/>
<ellipse class="f" cx="1415" cy="605" rx="11" ry="14"/>
<ellipse class="W" cx="1415" cy="690" rx="25" ry="28"/>
<path class="W" d="M1403,615V680H1428V615Z"/>
<path class="s" d="M1415,720V765"/>
<ellipse class="W" cx="1415" cy="815" rx="22" ry="22"/><ellipse class="W" cx="1415" cy="787" rx="25" ry="28"/><ellipse class="f" cx="1415" cy="785" rx="7" ry="11"/>
<path class="m" d="M1325,820C1345,815 1355,815 1365,840C1385,870 1400,855 1430,860C1450,860 1470,830 1490,835C1515,840 1530,890 1530,930C1530,970 1535,985 1515,1020C1490,1060 1480,1085 1430,1085L1370,1085C1360,1060 1350,1030 1320,1005C1305,985 1310,960 1305,930C1295,890 1300,840 1325,820Z"/>
<path class="s" stroke-dasharray="14 9" d="M1415,860V955M1415,1090V1130"/><ellipse class="f" cx="1415" cy="968" rx="7" ry="10"/>
<ellipse class="W" cx="1415" cy="1160" rx="26" ry="28"/><ellipse class="f" cx="1415" cy="1160" rx="6" ry="10"/>
<path class="h" style="stroke-width:5" d="M1413,1235V1330"/>
<path class="W" d="M1403,1340V1420H1423V1340Z"/><ellipse class="f" cx="1413" cy="1425" rx="9" ry="14"/>
</g>

<!-- P4: third detail -->
<g transform="translate(1780,2100) scale(.3333)">
<circle class="m" cx="828" cy="742" r="697"/>
<path class="s" style="stroke-width:2.500" d="M145,680L460,610L735,490L1120,120M150,865L470,800L590,745M460,610V800M735,490V640M865,580L1260,215"/>
<ellipse class="s" style="stroke-width:2.500" cx="517" cy="645" rx="12" ry="35"/><ellipse class="s" style="stroke-width:2.500" cx="672" cy="575" rx="12" ry="35"/>
<path class="W" style="stroke-width:2.500" d="M595,720L860,605L870,590L1000,820L990,860L960,910L860,770L690,855L730,970C715,1030 690,1040 670,1030L600,870Z"/>
<path class="s" style="stroke-width:2.500" d="M625,735L850,625L860,610V770M625,735L720,940M600,725L720,960M870,650L980,830"/>
<ellipse class="W" cx="618" cy="680" rx="15" ry="30" style="stroke-width:2.500"/>
<path fill="#fff" d="M600,720L640,700L650,715L605,735Z"/><path class="s" d="M595,720L860,605"/>
<ellipse class="s" style="stroke-width:2.500" cx="818" cy="680" rx="10" ry="35"/><ellipse class="s" style="stroke-width:2.500" cx="685" cy="745" rx="15" ry="30"/><ellipse class="s" style="stroke-width:2.500" cx="768" cy="773" rx="15" ry="30"/>
<circle class="f" cx="935" cy="850" r="17"/>
<ellipse class="f" cx="668" cy="965" rx="14" ry="24"/>
<path class="s" style="stroke-width:2.500" d="M860,870L920,850M915,890L955,915L985,925M770,905L765,945M755,970L740,1025M625,970L670,960M710,1110L745,1060M710,1110L765,1095M1020,950L1075,975L1020,995"/>
<path class="m" d="M480,938L650,900"/>
<path class="W" style="stroke-width:2.500" d="M760,1035L975,955C1010,960 1025,1010 1015,1065L815,1140Z"/>
<ellipse class="W" cx="790" cy="1090" rx="30" ry="55" style="stroke-width:2.500" transform="rotate(-10 790 1090)"/>
<ellipse class="s" style="stroke-width:2.500" cx="785" cy="1090" rx="12" ry="20"/>
<path class="s" d="M920,1060L1010,1160"/>
<path class="W" style="stroke-width:2.500" d="M1050,770L1405,635L1425,675L1065,815Z"/>
<path class="h" style="stroke-width:5" d="M1070,750L1400,640"/>
<ellipse class="W" cx="1058" cy="790" rx="18" ry="25" style="stroke-width:2.500"/><circle class="s" style="stroke-width:2.500" cx="1095" cy="770" r="14"/>
<circle class="f" cx="1410" cy="655" r="13"/>
<path class="s" style="stroke-width:2.500" d="M1020,805L1045,795M1220,735L1315,860"/>
<path class="f" d="M1072,610C1072,590 1100,590 1100,610L1092,630V712H1078V630Z"/>
<path class="f" d="M1372,490C1372,465 1402,465 1402,490L1396,510V578H1382V510Z"/>
</g>

<!-- parts in overview frame -->
<g transform="scale(1.7314)">
<path class="d" d="M604,596L658,565L730,606M760,624L780,636"/>
<path class="f" d="M509,560H516V564L514,566V574H511V566L509,564Z"/>
<path class="t" d="M555,545L518,563M570,572L524,584"/>
<!-- 29 -->
<path class="w" d="M145,1098L152,1092L160,1098V1112L147,1114Z"/><path class="f" d="M144,1092L158,1086L161,1095L146,1100Z"/>
<path class="t" d="M192,1112L165,1105"/>
<path class="d" d="M180,1075L150,1090"/>
</g>

<!-- labels -->
<g transform="scale(1.7314)">
<text x="976" y="63">2</text><text x="943" y="131">3</text><text x="1028" y="114">1</text><text x="915" y="179">4</text><text x="907" y="205">6</text><text x="915" y="264">5</text><text x="1035" y="241">80</text><text x="1026" y="312">79</text><text x="936" y="292">7</text><text x="926" y="326">4</text><text x="930" y="375">8</text><text x="1031" y="371">81</text><text x="929" y="431">9</text><text x="868" y="460">14</text><text x="941" y="515">9</text><text x="908" y="561">10</text><text x="940" y="565">11</text><text x="938" y="591">12</text><text x="1086" y="322">13</text>
<text x="563" y="97">16</text><text x="402" y="181">15</text><text x="458" y="165">78</text><text x="832" y="256">17</text><text x="647" y="341">18</text><text x="466" y="418">18</text>
<text x="233" y="552">60</text><text x="284" y="575">59</text><text x="318" y="600">58</text><text x="125" y="620">55</text><text x="195" y="649">57</text><text x="183" y="711">56</text><text x="154" y="763">54</text><text x="394" y="576">53</text><text x="344" y="631">52</text><text x="264" y="691">52</text><text x="350" y="697">53</text><text x="567" y="538">2</text><text x="583" y="568">3</text><text x="472" y="563">50</text>
<text x="693" y="648">64</text><text x="562" y="706">76</text><text x="453" y="767">75</text><text x="436" y="790">51</text><text x="459" y="821">49</text><text x="353" y="824">64</text><text x="415" y="817">77</text><text x="510" y="873">26</text><text x="534" y="857">24</text><text x="564" y="906">84</text><text x="591" y="912">23</text><text x="683" y="848">25</text><text x="740" y="827">24</text><text x="695" y="810">23</text><text x="650" y="918">31</text><text x="476" y="968">30</text><text x="658" y="982">34</text><text x="768" y="1003">27</text><text x="700" y="1037">82</text>
<text x="847" y="613">69</text><text x="900" y="628">70</text><text x="785" y="670">68</text><text x="923" y="677">48</text><text x="851" y="728">47</text><text x="993" y="707">45</text><text x="1033" y="735">69</text><text x="1079" y="727">70</text><text x="873" y="745">61</text><text x="913" y="737">63</text><text x="965" y="767">62</text><text x="989" y="778">63</text><text x="1027" y="800">2</text><text x="1056" y="795">62</text><text x="1084" y="790">63</text><text x="1093" y="838">63</text><text x="993" y="830">73</text><text x="1058" y="844">72</text><text x="1097" y="882">61</text><text x="1095" y="908">35</text><text x="1075" y="925">36</text><text x="960" y="903">63</text><text x="900" y="900">63</text><text x="860" y="885">63</text><text x="778" y="850">63</text><text x="942" y="790">32</text><text x="924" y="922">83</text><text x="919" y="985">33</text><text x="1070" y="956">37</text><text x="1070" y="979">71</text><text x="1078" y="998">38</text><text x="1103" y="1012">44</text><text x="1099" y="1040">41</text><text x="1132" y="1035">42</text><text x="925" y="1049">43</text><text x="1003" y="1102">41</text><text x="950" y="1135">42</text><text x="1073" y="1185">40</text><text x="1136" y="1183">39</text>
<text x="202" y="866">67</text><text x="79" y="933">66</text><text x="146" y="932">70</text><text x="262" y="855">65</text><text x="320" y="908">47</text><text x="357" y="925">48</text><text x="208" y="973">46</text><text x="246" y="987">48</text><text x="118" y="965">28</text><text x="207" y="1114">29</text><text x="281" y="1061">74</text><text x="309" y="1080">68</text><text x="339" y="1060">47</text><text x="357" y="1041">69</text><text x="380" y="1023">70</text><text x="390" y="1073">45</text><text x="463" y="1053">69</text><text x="432" y="1075">70</text>
<text x="396" y="1157">88</text><text x="369" y="1175">11</text><text x="501" y="1162">85</text><text x="520" y="1181">86</text><text x="533" y="1205">73</text><text x="373" y="1207">20</text><text x="513" y="1223">69</text><text x="376" y="1231">89</text><text x="354" y="1257">21</text><text x="530" y="1251">19</text><text x="410" y="1316">3</text><text x="414" y="1350">90</text>
<text x="754" y="1130">88</text><text x="728" y="1155">11</text><text x="873" y="1136">85</text><text x="891" y="1155">86</text><text x="899" y="1181">73</text><text x="712" y="1188">20</text><text x="882" y="1204">69</text><text x="740" y="1205">89</text><text x="717" y="1248">21</text><text x="897" y="1226">19</text><text x="920" y="1247">22</text><text x="754" y="1319">3</text><text x="877" y="1346">87</text>
<text x="1105" y="1396">91</text><text x="1231" y="1450">92</text><text x="1284" y="1395">93</text>
<text x="997" y="1346" style="font-size:11px;font-weight:normal;stroke-width:.2">DB3354A</text>
</g>
</svg>
</body></html>
